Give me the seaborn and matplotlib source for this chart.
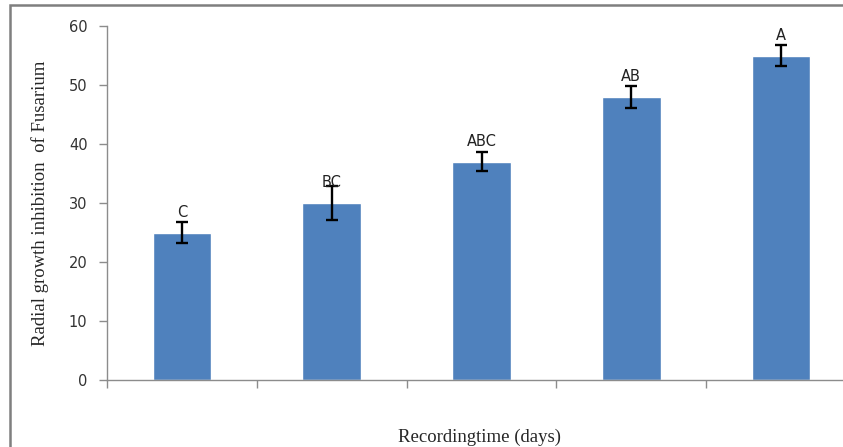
import matplotlib
matplotlib.use("Agg")
import matplotlib.pyplot as plt
import seaborn as sns
import pandas as pd
from matplotlib.patches import Rectangle

# Radial growth inhibition of Fusarium over the recording period
days = ["1", "2", "3", "4", "5"]
inhibition = [25, 30, 37, 48, 55]
std_err = [1.7, 2.9, 1.6, 1.9, 1.7]
letters = ["C", "BC", "ABC", "AB", "A"]

df = pd.DataFrame({"day": days, "inhibition": inhibition})

sns.set_style("white")
fig = plt.figure(figsize=(8.43, 4.47), dpi=100)
ax = fig.add_axes([107 / 843, 67 / 447, 749 / 843, 354 / 447])

sns.barplot(data=df, x="day", y="inhibition", color="#4F81BD",
            saturation=1, width=0.39, errorbar=None, ax=ax, zorder=2)

xs = list(range(len(days)))
ax.errorbar(xs, inhibition, yerr=std_err, fmt="none", ecolor="black",
            elinewidth=1.7, capsize=4, capthick=1.7, zorder=3)

# significance letters sit a fixed distance above each bar
for x, v, lab in zip(xs, inhibition, letters):
    ax.text(x, v + 3.4, lab, ha="center", va="center",
            fontsize=10.5, color="#222222", family="DejaVu Sans", zorder=4)

ax.set_xlim(-0.5, len(days) - 0.5)
ax.set_ylim(0, 60)
ax.set_yticks(range(0, 61, 10))
ax.set_yticklabels([str(t) for t in range(0, 61, 10)], fontsize=10.5,
                   color="#333333")
ax.set_xticks([i - 0.5 for i in range(len(days) + 1)])
ax.set_xticklabels([])

for side in ["top", "right"]:
    ax.spines[side].set_visible(False)
for side in ["left", "bottom"]:
    ax.spines[side].set_color("#8c8c8c")
    ax.spines[side].set_linewidth(1.0)
ax.tick_params(axis="both", which="both", direction="out", length=6,
               width=1.0, color="#8c8c8c", left=True, bottom=True)
ax.tick_params(axis="y", pad=8)

ax.set_xlabel("Recordingtime (days)", family="Liberation Serif",
              fontsize=13.5)
ax.xaxis.set_label_coords(0.497, -0.161)
ax.xaxis.label.set_va("center")
ax.set_ylabel("Radial growth inhibition  of Fusarium",
              family="Liberation Serif", fontsize=13.5, labelpad=14)

# chart-area border
fig.patches.append(Rectangle((10 / 843, -0.05), 1.2, (447 - 5) / 447 + 0.05,
                             transform=fig.transFigure, fill=False,
                             edgecolor="#7f7f7f", linewidth=1.8, zorder=0))

fig.savefig("out.png", dpi=100)
